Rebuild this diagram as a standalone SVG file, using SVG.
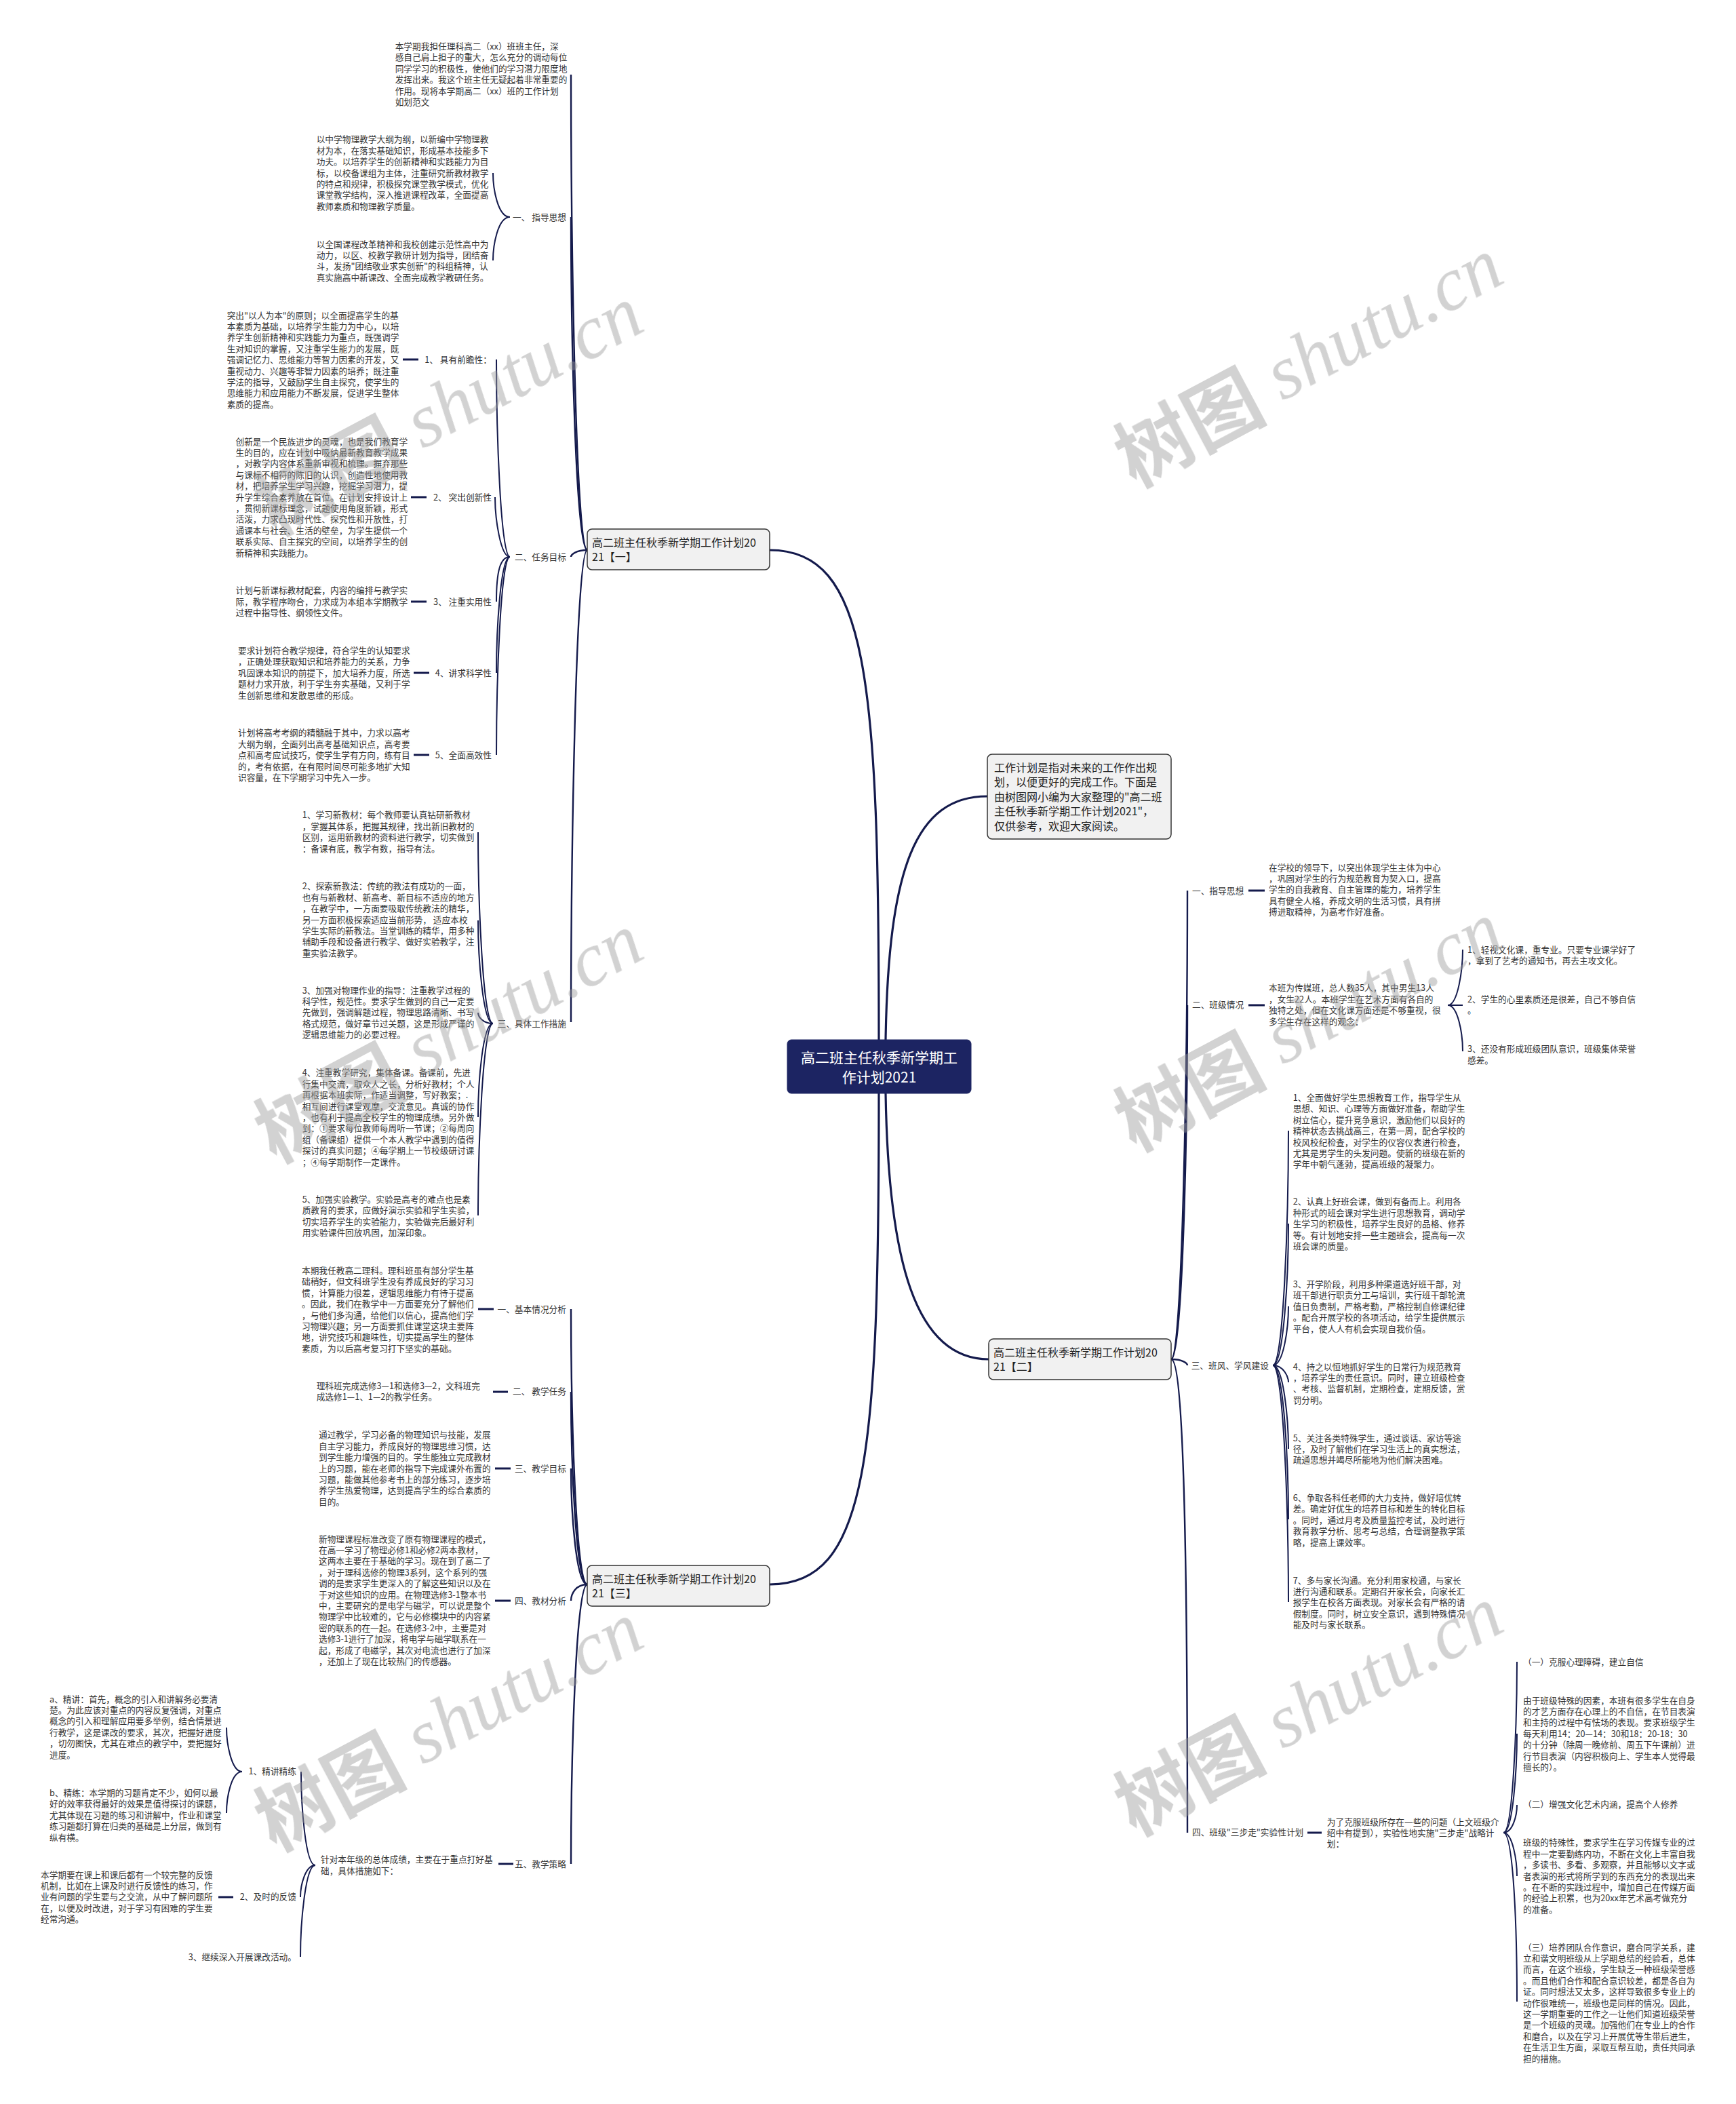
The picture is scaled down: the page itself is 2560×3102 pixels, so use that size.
<svg xmlns="http://www.w3.org/2000/svg" width="2560" height="3102" viewBox="0 0 2560 3102">
<style>
.t{font-family:"Noto Sans CJK SC","Noto Sans",sans-serif;font-size:12.7px;fill:#333}
.b{font-family:"Noto Sans CJK SC","Noto Sans",sans-serif;font-size:16px;fill:#222}
.c{font-family:"Noto Sans CJK SC","Noto Sans",sans-serif;font-size:21px;fill:#fff}
.e{fill:none;stroke:#141a4c;stroke-width:2}
.e0{fill:none;stroke:#141a4c;stroke-width:3.2}
.e1{fill:none;stroke:#141a4c;stroke-width:2.4}
.s{stroke:#141a4c;stroke-width:3}
.box{fill:#f1f1f1;stroke:#333;stroke-width:1.5}
.wm{font-size:112px;fill:#9a9a9a;opacity:0.45}
.wmc{font-family:"Noto Sans CJK SC",sans-serif;font-weight:bold}
.wml{font-family:"Liberation Serif",serif;font-style:italic}
</style>
<rect x="0" y="0" width="2560" height="3102" fill="#fff"/>
<g id="connectors">
<path class="e0" d="M1296,1533 C1296,1000 1280,811 1135,811"/>
<path class="e0" d="M1306,1533 C1310,1280 1350,1174 1456,1174"/>
<path class="e0" d="M1306,1612 C1310,1860 1350,2004 1458,2004"/>
<path class="e0" d="M1296,1612 C1296,2150 1280,2336 1135,2336"/>
<path class="e1" d="M866,811 C849,811 842,355 842,110"/>
<path class="e1" d="M866,811 C849,811 842,488 842,320"/>
<path class="e1" d="M866,811 C849,811 842,818 842,821"/>
<path class="e1" d="M866,811 C849,811 842,1270 842,1507"/>
<path class="e1" d="M866,2336 C849,2336 842,2080 842,1930"/>
<path class="e1" d="M866,2336 C849,2336 842,2150 842,2052"/>
<path class="e1" d="M866,2336 C849,2336 842,2225 842,2165"/>
<path class="e1" d="M866,2336 C849,2336 842,2350 842,2360"/>
<path class="e1" d="M866,2336 C849,2336 842,2600 842,2748"/>
<path class="e1" d="M1727,2004 C1744,2004 1751,1550 1751,1313"/>
<path class="e1" d="M1727,2004 C1744,2004 1751,1665 1751,1482"/>
<path class="e1" d="M1727,2004 C1744,2004 1751,2010 1751,2013"/>
<path class="e1" d="M1727,2004 C1744,2004 1751,2245 1751,2702"/>
<path class="e" d="M752,320 C734,320 727,278 727,255"/>
<path class="e" d="M752,320 C734,320 727,362 727,384"/>
<path class="e" d="M752,821 C738,821 732,632 732,530"/>
<path class="e" d="M752,821 C738,821 730,764 730,733"/>
<path class="e" d="M752,821 C738,821 732,841 732,887"/>
<path class="e" d="M752,821 C738,821 732,930 732,992"/>
<path class="e" d="M752,821 C738,821 732,1010 732,1113"/>
<path class="e" d="M727,1509 C712,1509 705,1326 705,1227"/>
<path class="e" d="M727,1509 C712,1509 705,1410 705,1357"/>
<path class="e" d="M727,1509 C712,1509 705,1499 705,1493"/>
<path class="e" d="M727,1509 C712,1509 705,1594 705,1647"/>
<path class="e" d="M727,1509 C712,1509 705,1693 705,1792"/>
<path class="e" d="M465,2750 C450,2750 444,2660 444,2612"/>
<path class="e" d="M465,2750 C450,2750 443,2780 443,2797"/>
<path class="e" d="M465,2750 C450,2750 443,2838 443,2885"/>
<path class="e" d="M357,2612 C341,2612 334,2570 334,2547"/>
<path class="e" d="M357,2612 C341,2612 334,2650 334,2673"/>
<path class="e" d="M2135,1482 C2150,1482 2157,1429 2157,1400"/>
<path class="e" d="M2135,1482 C2150,1482 2157,1482 2157,1482"/>
<path class="e" d="M2135,1482 C2150,1482 2157,1524 2157,1550"/>
<path class="e" d="M1877,2013 C1893,2013 1900,1790 1900,1667"/>
<path class="e" d="M1877,2013 C1893,2013 1900,1880 1900,1804"/>
<path class="e" d="M1877,2013 C1893,2013 1900,1957 1900,1926"/>
<path class="e" d="M1877,2013 C1893,2013 1900,2030 1900,2038"/>
<path class="e" d="M1877,2013 C1893,2013 1900,2095 1900,2136"/>
<path class="e" d="M1877,2013 C1893,2013 1900,2158 1900,2240"/>
<path class="e" d="M1877,2013 C1893,2013 1900,2235 1900,2362"/>
<path class="e" d="M2217,2702 C2231,2702 2237,2540 2237,2450"/>
<path class="e" d="M2217,2702 C2231,2702 2237,2608 2237,2556"/>
<path class="e" d="M2217,2702 C2231,2702 2237,2676 2237,2661"/>
<path class="e" d="M2217,2702 C2231,2702 2237,2745 2237,2766"/>
<path class="e" d="M2217,2702 C2231,2702 2237,2830 2237,2951"/>
<line class="s" x1="594" y1="530" x2="617" y2="530"/>
<line class="s" x1="606" y1="733" x2="629" y2="733"/>
<line class="s" x1="606" y1="887" x2="629" y2="887"/>
<line class="s" x1="610" y1="992" x2="633" y2="992"/>
<line class="s" x1="610" y1="1113" x2="633" y2="1113"/>
<line class="s" x1="705" y1="1930" x2="728" y2="1930"/>
<line class="s" x1="727" y1="2052" x2="749" y2="2052"/>
<line class="s" x1="730" y1="2165" x2="753" y2="2165"/>
<line class="s" x1="730" y1="2360" x2="753" y2="2360"/>
<line class="s" x1="735" y1="2748" x2="757" y2="2748"/>
<line class="s" x1="322" y1="2797" x2="344" y2="2797"/>
<line class="s" x1="1841" y1="1313" x2="1865" y2="1313"/>
<line class="s" x1="1841" y1="1482" x2="1865" y2="1482"/>
<line class="s" x1="1928" y1="2702" x2="1949" y2="2702"/>
</g>
<g id="root">
<rect x="1161" y="1533" width="271" height="79" rx="6" fill="#1c2462" stroke="#1c2462"/>
<text class="c" text-anchor="middle" x="1296.5" y="1566.6">高二班主任秋季新学期工<tspan x="1296.5" dy="29">作计划2021</tspan></text>
</g>
<g id="intro">
<rect class="box" x="1456" y="1112" width="271" height="125" rx="7"/>
<text class="b" x="1466" y="1137.5">工作计划是指对未来的工作作出规<tspan x="1466" dy="21.65">划，以便更好的完成工作。下面是</tspan><tspan x="1466" dy="21.65">由树图网小编为大家整理的"高二班</tspan><tspan x="1466" dy="21.65">主任秋季新学期工作计划2021"，</tspan><tspan x="1466" dy="21.65">仅供参考，欢迎大家阅读。</tspan></text>
</g>
<g id="b1">
<rect class="box" x="866" y="780" width="269" height="60" rx="7"/>
<text class="b" x="873" y="805.8">高二班主任秋季新学期工作计划20<tspan x="873" dy="21">21【一】</tspan></text>
</g>
<g id="b2">
<rect class="box" x="1458" y="1974" width="269" height="60" rx="7"/>
<text class="b" x="1465" y="1999.8">高二班主任秋季新学期工作计划20<tspan x="1465" dy="21">21【二】</tspan></text>
</g>
<g id="b3">
<rect class="box" x="866" y="2308" width="269" height="60" rx="7"/>
<text class="b" x="873" y="2333.8">高二班主任秋季新学期工作计划20<tspan x="873" dy="21">21【三】</tspan></text>
</g>
<g id="n-intro-text">
<text class="t" x="582.7" y="72.9">本学期我担任理科高二（xx）班班主任，深<tspan x="582.7" dy="16.4">感自己肩上担子的重大，怎么充分的调动每位</tspan><tspan x="582.7" dy="16.4">同学学习的积极性，使他们的学习潜力限度地</tspan><tspan x="582.7" dy="16.4">发挥出来。我这个班主任无疑起着非常重要的</tspan><tspan x="582.7" dy="16.4">作用。现将本学期高二（xx）班的工作计划</tspan><tspan x="582.7" dy="16.4">如划范文</tspan></text>
</g>
<g id="n-zdsx">
<text class="t" x="835" y="324.6" text-anchor="end">一、 指导思想</text>
</g>
<g id="n-zd1">
<text class="t" x="466.7" y="210.3">以中学物理教学大纲为纲，以新编中学物理教<tspan x="466.7" dy="16.4">材为本，在落实基础知识，形成基本技能多下</tspan><tspan x="466.7" dy="16.4">功夫。以培养学生的创新精神和实践能力为目</tspan><tspan x="466.7" dy="16.4">标，以校备课组为主体，注重研究新教材教学</tspan><tspan x="466.7" dy="16.4">的特点和规律，积极探究课堂教学模式，优化</tspan><tspan x="466.7" dy="16.4">课堂教学结构，深入推进课程改革，全面提高</tspan><tspan x="466.7" dy="16.4">教师素质和物理教学质量。</tspan></text>
</g>
<g id="n-zd2">
<text class="t" x="466.7" y="364.6">以全国课程改革精神和我校创建示范性高中为<tspan x="466.7" dy="16.4">动力，以区、校教学教研计划为指导，团结奋</tspan><tspan x="466.7" dy="16.4">斗，发扬"团结敬业求实创新"的科组精神，认</tspan><tspan x="466.7" dy="16.4">真实施高中新课改、全面完成教学教研任务。</tspan></text>
</g>
<g id="n-rwmb">
<text class="t" x="835" y="826.3" text-anchor="end">二、任务目标</text>
</g>
<g id="n-rw1">
<text class="t" x="725" y="534.6" text-anchor="end">1、 具有前瞻性：</text>
<text class="t" x="334.7" y="469.6">突出"以人为本"的原则；以全面提高学生的基<tspan x="334.7" dy="16.4">本素质为基础，以培养学生能力为中心，以培</tspan><tspan x="334.7" dy="16.4">养学生创新精神和实践能力为重点，既强调学</tspan><tspan x="334.7" dy="16.4">生对知识的掌握，又注重学生能力的发展，既</tspan><tspan x="334.7" dy="16.4">强调记忆力、思维能力等智力因素的开发，又</tspan><tspan x="334.7" dy="16.4">重视动力、兴趣等非智力因素的培养；既注重</tspan><tspan x="334.7" dy="16.4">学法的指导，又鼓励学生自主探究，使学生的</tspan><tspan x="334.7" dy="16.4">思维能力和应用能力不断发展，促进学生整体</tspan><tspan x="334.7" dy="16.4">素质的提高。</tspan></text>
</g>
<g id="n-rw2">
<text class="t" x="725" y="737.9" text-anchor="end">2、 突出创新性</text>
<text class="t" x="347.5" y="655.6">创新是一个民族进步的灵魂，也是我们教育学<tspan x="347.5" dy="16.4">生的目的，应在计划中吸纳最新教育教学成果</tspan><tspan x="347.5" dy="16.4">，对教学内容体系重新审视和梳理。摒弃那些</tspan><tspan x="347.5" dy="16.4">与课标不相符的陈旧的认识，创造性地使用教</tspan><tspan x="347.5" dy="16.4">材，把培养学生学习兴趣，挖掘学习潜力，提</tspan><tspan x="347.5" dy="16.4">升学生综合素养放在首位。在计划安排设计上</tspan><tspan x="347.5" dy="16.4">，贯彻新课标理念，试题使用角度新颖，形式</tspan><tspan x="347.5" dy="16.4">活泼，力求凸现时代性、探究性和开放性，打</tspan><tspan x="347.5" dy="16.4">通课本与社会、生活的壁垒，为学生提供一个</tspan><tspan x="347.5" dy="16.4">联系实际、自主探究的空间，以培养学生的创</tspan><tspan x="347.5" dy="16.4">新精神和实践能力。</tspan></text>
</g>
<g id="n-rw3">
<text class="t" x="725" y="891.9" text-anchor="end">3、 注重实用性</text>
<text class="t" x="347.5" y="875.3">计划与新课标教材配套，内容的编排与教学实<tspan x="347.5" dy="16.4">际，教学程序吻合，力求成为本组本学期教学</tspan><tspan x="347.5" dy="16.4">过程中指导性、纲领性文件。</tspan></text>
</g>
<g id="n-rw4">
<text class="t" x="725" y="996.9" text-anchor="end">4、讲求科学性</text>
<text class="t" x="351" y="963.9">要求计划符合教学规律，符合学生的认知要求<tspan x="351" dy="16.4">，正确处理获取知识和培养能力的关系，力争</tspan><tspan x="351" dy="16.4">巩固课本知识的前提下，加大培养力度，所选</tspan><tspan x="351" dy="16.4">题材力求开放，利于学生夯实基础，又利于学</tspan><tspan x="351" dy="16.4">生创新思维和发散思维的形成。</tspan></text>
</g>
<g id="n-rw5">
<text class="t" x="725" y="1117.9" text-anchor="end">5、全面高效性</text>
<text class="t" x="351" y="1085.3">计划将高考考纲的精髓融于其中，力求以高考<tspan x="351" dy="16.4">大纲为纲，全面列出高考基础知识点，高考要</tspan><tspan x="351" dy="16.4">点和高考应试技巧，使学生学有方向，练有目</tspan><tspan x="351" dy="16.4">的，考有依据，在有限时间尽可能多地扩大知</tspan><tspan x="351" dy="16.4">识容量，在下学期学习中先入一步。</tspan></text>
</g>
<g id="n-jtcs">
<text class="t" x="835" y="1513.9" text-anchor="end">三、具体工作措施</text>
</g>
<g id="n-cs1">
<text class="t" x="445.7" y="1206.3">1、学习新教材：每个教师要认真钻研新教材<tspan x="445.7" dy="16.4">，掌握其体系，把握其规律，找出新旧教材的</tspan><tspan x="445.7" dy="16.4">区别，运用新教材的资料进行教学，切实做到</tspan><tspan x="445.7" dy="16.4">：备课有底，教学有数，指导有法。</tspan></text>
</g>
<g id="n-cs2">
<text class="t" x="445.7" y="1311.3">2、探索新教法：传统的教法有成功的一面，<tspan x="445.7" dy="16.4">也有与新教材、新高考、新目标不适应的地方</tspan><tspan x="445.7" dy="16.4">，在教学中，一方面要吸取传统教法的精华，</tspan><tspan x="445.7" dy="16.4">另一方面积极探索适应当前形势， 适应本校</tspan><tspan x="445.7" dy="16.4">学生实际的新教法。当堂训练的精华，用多种</tspan><tspan x="445.7" dy="16.4">辅助手段和设备进行教学、做好实验教学，注</tspan><tspan x="445.7" dy="16.4">重实验法教学。</tspan></text>
</g>
<g id="n-cs3">
<text class="t" x="445.7" y="1464.6">3、加强对物理作业的指导：注重教学过程的<tspan x="445.7" dy="16.4">科学性，规范性。要求学生做到的自己一定要</tspan><tspan x="445.7" dy="16.4">先做到，强调解题过程，物理思路清晰、书写</tspan><tspan x="445.7" dy="16.4">格式规范，做好章节过关题，这是形成严谨的</tspan><tspan x="445.7" dy="16.4">逻辑思维能力的必要过程。</tspan></text>
</g>
<g id="n-cs4">
<text class="t" x="445.7" y="1586.3">4、注重教学研究，集体备课。备课前，先进<tspan x="445.7" dy="16.4">行集中交流，取众人之长，分析好教材；个人</tspan><tspan x="445.7" dy="16.4">再根据本班实际，作适当调整，写好教案；.</tspan><tspan x="445.7" dy="16.4">相互间进行课堂观摩，交流意见。真诚的协作</tspan><tspan x="445.7" dy="16.4">，也有利于提高全校学生的物理成绩。另外做</tspan><tspan x="445.7" dy="16.4">到：①要求每位教师每周听一节课；②每周向</tspan><tspan x="445.7" dy="16.4">组（备课组）提供一个本人教学中遇到的值得</tspan><tspan x="445.7" dy="16.4">探讨的真实问题；④每学期上一节校级研讨课</tspan><tspan x="445.7" dy="16.4">；④每学期制作一定课件。</tspan></text>
</g>
<g id="n-cs5">
<text class="t" x="445.7" y="1772.9">5、加强实验教学。实验是高考的难点也是素<tspan x="445.7" dy="16.4">质教育的要求，应做好演示实验和学生实验，</tspan><tspan x="445.7" dy="16.4">切实培养学生的实验能力，实验做完后最好利</tspan><tspan x="445.7" dy="16.4">用实验课件回放巩固，加深印象。</tspan></text>
</g>
<g id="n-jbqk">
<text class="t" x="835" y="1934.6" text-anchor="end">一、基本情况分析</text>
<text class="t" x="445" y="1877.9">本期我任教高二理科。理科班虽有部分学生基<tspan x="445" dy="16.4">础稍好，但文科班学生没有养成良好的学习习</tspan><tspan x="445" dy="16.4">惯，计算能力很差，逻辑思维能力有待于提高</tspan><tspan x="445" dy="16.4">。因此，我们在教学中一方面要充分了解他们</tspan><tspan x="445" dy="16.4">，与他们多沟通，给他们以信心，提高他们学</tspan><tspan x="445" dy="16.4">习物理兴趣；另一方面要抓住课堂这块主要阵</tspan><tspan x="445" dy="16.4">地，讲究技巧和趣味性，切实提高学生的整体</tspan><tspan x="445" dy="16.4">素质，为以后高考复习打下坚实的基础。</tspan></text>
</g>
<g id="n-jxrw">
<text class="t" x="835" y="2056.3" text-anchor="end">二、 教学任务</text>
<text class="t" x="466.7" y="2047.9">理科班完成选修3—1和选修3—2，文科班完<tspan x="466.7" dy="16.4">成选修1—1、1—2的教学任务。</tspan></text>
</g>
<g id="n-jxmb">
<text class="t" x="835" y="2169.6" text-anchor="end">三、教学目标</text>
<text class="t" x="470" y="2120.3">通过教学，学习必备的物理知识与技能，发展<tspan x="470" dy="16.4">自主学习能力，养成良好的物理思维习惯，达</tspan><tspan x="470" dy="16.4">到学生能力增强的目的。学生能独立完成教材</tspan><tspan x="470" dy="16.4">上的习题，能在老师的指导下完成课外布置的</tspan><tspan x="470" dy="16.4">习题，能做其他参考书上的部分练习，逐步培</tspan><tspan x="470" dy="16.4">养学生热爱物理，达到提高学生的综合素质的</tspan><tspan x="470" dy="16.4">目的。</tspan></text>
</g>
<g id="n-jcfx">
<text class="t" x="835" y="2364.6" text-anchor="end">四、教材分析</text>
<text class="t" x="470" y="2273.6">新物理课程标准改变了原有物理课程的模式，<tspan x="470" dy="16.4">在高一学习了物理必修1和必修2两本教材，</tspan><tspan x="470" dy="16.4">这两本主要在于基础的学习。现在到了高二了</tspan><tspan x="470" dy="16.4">，对于理科选修的物理3系列，这个系列的强</tspan><tspan x="470" dy="16.4">调的是要求学生更深入的了解这些知识以及在</tspan><tspan x="470" dy="16.4">于对这些知识的应用。在物理选修3-1整本书</tspan><tspan x="470" dy="16.4">中，主要研究的是电学与磁学，可以说是整个</tspan><tspan x="470" dy="16.4">物理学中比较难的，它与必修模块中的内容紧</tspan><tspan x="470" dy="16.4">密的联系的在一起。在选修3-2中，主要是对</tspan><tspan x="470" dy="16.4">选修3-1进行了加深，将电学与磁学联系在一</tspan><tspan x="470" dy="16.4">起，形成了电磁学，其次对电流也进行了加深</tspan><tspan x="470" dy="16.4">，还加上了现在比较热门的传感器。</tspan></text>
</g>
<g id="n-jxcl">
<text class="t" x="835" y="2752.9" text-anchor="end">五、教学策略</text>
<text class="t" x="473" y="2746.3">针对本年级的总体成绩，主要在于重点打好基<tspan x="473" dy="16.4">础，具体措施如下：</tspan></text>
</g>
<g id="n-jjjl">
<text class="t" x="437" y="2616.3" text-anchor="end">1、精讲精练</text>
<text class="t" x="73" y="2509.6">a、精讲：首先，概念的引入和讲解务必要清<tspan x="73" dy="16.4">楚。为此应该对重点的内容反复强调，对重点</tspan><tspan x="73" dy="16.4">概念的引入和理解应用要多举例，结合情景进</tspan><tspan x="73" dy="16.4">行教学，这是课改的要求，其次，把握好进度</tspan><tspan x="73" dy="16.4">，切勿图快，尤其在难点的教学中，要把握好</tspan><tspan x="73" dy="16.4">进度。</tspan></text>
<text class="t" x="73" y="2647.9">b、精练：本学期的习题肯定不少，如何以最<tspan x="73" dy="16.4">好的效率获得最好的效果是值得探讨的课题，</tspan><tspan x="73" dy="16.4">尤其体现在习题的练习和讲解中，作业和课堂</tspan><tspan x="73" dy="16.4">练习题都打算在归类的基础是上分层，做到有</tspan><tspan x="73" dy="16.4">纵有横。</tspan></text>
</g>
<g id="n-jsfk">
<text class="t" x="437" y="2801.3" text-anchor="end">2、及时的反馈</text>
<text class="t" x="60" y="2768.6">本学期要在课上和课后都有一个较完整的反馈<tspan x="60" dy="16.4">机制，比如在上课及时进行反馈性的练习，作</tspan><tspan x="60" dy="16.4">业有问题的学生要与之交流，从中了解问题所</tspan><tspan x="60" dy="16.4">在，以便及时改进，对于学习有困难的学生要</tspan><tspan x="60" dy="16.4">经常沟通。</tspan></text>
</g>
<g id="n-kghd">
<text class="t" x="437" y="2889.6" text-anchor="end">3、继续深入开展课改活动。</text>
</g>
<g id="n-r-zdsx">
<text class="t" x="1758" y="1317.9">一、指导思想</text>
<text class="t" x="1871" y="1283.6">在学校的领导下，以突出体现学生主体为中心<tspan x="1871" dy="16.4">，巩固对学生的行为规范教育为契入口，提高</tspan><tspan x="1871" dy="16.4">学生的自我教育、自主管理的能力，培养学生</tspan><tspan x="1871" dy="16.4">具有健全人格，养成文明的生活习惯，具有拼</tspan><tspan x="1871" dy="16.4">搏进取精神，为高考作好准备。</tspan></text>
</g>
<g id="n-r-bjqk">
<text class="t" x="1758" y="1486.3">二、班级情况</text>
<text class="t" x="1871" y="1461.3">本班为传媒班，总人数35人，其中男生13人<tspan x="1871" dy="16.4">，女生22人。本班学生在艺术方面有各自的</tspan><tspan x="1871" dy="16.4">独特之处，但在文化课方面还是不够重视，很</tspan><tspan x="1871" dy="16.4">多学生存在这样的观念：</tspan></text>
<text class="t" x="2164" y="1404.6">1、轻视文化课，重专业。只要专业课学好了<tspan x="2164" dy="16.4">，拿到了艺考的通知书，再去主攻文化。</tspan></text>
<text class="t" x="2164" y="1477.9">2、学生的心里素质还是很差，自己不够自信<tspan x="2164" dy="16.4">。</tspan></text>
<text class="t" x="2164" y="1551.3">3、还没有形成班级团队意识，班级集体荣誉<tspan x="2164" dy="16.4">感差。</tspan></text>
</g>
<g id="n-r-bfxf">
<text class="t" x="1756.7" y="2017.9">三、班风、学风建设</text>
<text class="t" x="1906.7" y="1622.9">1、全面做好学生思想教育工作，指导学生从<tspan x="1906.7" dy="16.4">思想、知识、心理等方面做好准备，帮助学生</tspan><tspan x="1906.7" dy="16.4">树立信心，提升竞争意识，激励他们以良好的</tspan><tspan x="1906.7" dy="16.4">精神状态去挑战高三，在第一周，配合学校的</tspan><tspan x="1906.7" dy="16.4">校风校纪检查，对学生的仪容仪表进行检查，</tspan><tspan x="1906.7" dy="16.4">尤其是男学生的头发问题。使新的班级在新的</tspan><tspan x="1906.7" dy="16.4">学年中朝气蓬勃，提高班级的凝聚力。</tspan></text>
<text class="t" x="1906.7" y="1776.3">2、认真上好班会课，做到有备而上。利用各<tspan x="1906.7" dy="16.4">种形式的班会课对学生进行思想教育，调动学</tspan><tspan x="1906.7" dy="16.4">生学习的积极性，培养学生良好的品格、修养</tspan><tspan x="1906.7" dy="16.4">等。有计划地安排一些主题班会，提高每一次</tspan><tspan x="1906.7" dy="16.4">班会课的质量。</tspan></text>
<text class="t" x="1906.7" y="1897.9">3、开学阶段，利用多种渠道选好班干部，对<tspan x="1906.7" dy="16.4">班干部进行职责分工与培训，实行班干部轮流</tspan><tspan x="1906.7" dy="16.4">值日负责制，严格考勤，严格控制自修课纪律</tspan><tspan x="1906.7" dy="16.4">。配合开展学校的各项活动，给学生提供展示</tspan><tspan x="1906.7" dy="16.4">平台，使人人有机会实现自我价值。</tspan></text>
<text class="t" x="1906.7" y="2019.6">4、持之以恒地抓好学生的日常行为规范教育<tspan x="1906.7" dy="16.4">，培养学生的责任意识。同时，建立班级检查</tspan><tspan x="1906.7" dy="16.4">、考核、监督机制，定期检查，定期反馈，赏</tspan><tspan x="1906.7" dy="16.4">罚分明。</tspan></text>
<text class="t" x="1906.7" y="2124.6">5、关注各类特殊学生，通过谈话、家访等途<tspan x="1906.7" dy="16.4">径，及时了解他们在学习生活上的真实想法，</tspan><tspan x="1906.7" dy="16.4">疏通思想并竭尽所能地为他们解决困难。</tspan></text>
<text class="t" x="1906.7" y="2212.9">6、争取各科任老师的大力支持，做好培优转<tspan x="1906.7" dy="16.4">差。确定好优生的培养目标和差生的转化目标</tspan><tspan x="1906.7" dy="16.4">。同时，通过月考及质量监控考试，及时进行</tspan><tspan x="1906.7" dy="16.4">教育教学分析、思考与总结，合理调整教学策</tspan><tspan x="1906.7" dy="16.4">略，提高上课效率。</tspan></text>
<text class="t" x="1906.7" y="2334.6">7、多与家长沟通。充分利用家校通，与家长<tspan x="1906.7" dy="16.4">进行沟通和联系。定期召开家长会，向家长汇</tspan><tspan x="1906.7" dy="16.4">报学生在校各方面表现。对家长会有严格的请</tspan><tspan x="1906.7" dy="16.4">假制度。同时，树立安全意识，遇到特殊情况</tspan><tspan x="1906.7" dy="16.4">能及时与家长联系。</tspan></text>
</g>
<g id="n-r-sbz">
<text class="t" x="1758" y="2706.2">四、班级"三步走"实验性计划</text>
<text class="t" x="1956.8" y="2690.6">为了克服班级所存在一些的问题（上文班级介<tspan x="1956.8" dy="16.4">绍中有提到），实验性地实施"三步走"战略计</tspan><tspan x="1956.8" dy="16.4">划：</tspan></text>
<text class="t" x="2246" y="2455.2">（一）克服心理障碍，建立自信</text>
<text class="t" x="2246" y="2511.6">由于班级特殊的因素，本班有很多学生在自身<tspan x="2246" dy="16.4">的才艺方面存在心理上的不自信，在节目表演</tspan><tspan x="2246" dy="16.4">和主持的过程中有怯场的表现。要求班级学生</tspan><tspan x="2246" dy="16.4">每天利用14：20—14：30和18：20-18：30</tspan><tspan x="2246" dy="16.4">的十分钟（除周一晚修前、周五下午课前）进</tspan><tspan x="2246" dy="16.4">行节目表演（内容积极向上、学生本人觉得最</tspan><tspan x="2246" dy="16.4">擅长的）。</tspan></text>
<text class="t" x="2246" y="2665.4">（二）增强文化艺术内涵，提高个人修养</text>
<text class="t" x="2246" y="2721.3">班级的特殊性，要求学生在学习传媒专业的过<tspan x="2246" dy="16.4">程中一定要勤练内功，不断在文化上丰富自我</tspan><tspan x="2246" dy="16.4">，多读书、多看、多观察，并且能够以文字或</tspan><tspan x="2246" dy="16.4">者表演的形式将所学到的东西充分的表现出来</tspan><tspan x="2246" dy="16.4">。在不断的实践过程中，增加自己在传媒方面</tspan><tspan x="2246" dy="16.4">的经验上积累，也为20xx年艺术高考做充分</tspan><tspan x="2246" dy="16.4">的准备。</tspan></text>
<text class="t" x="2246" y="2875.6">（三）培养团队合作意识，磨合同学关系，建<tspan x="2246" dy="16.4">立和谐文明班级从上学期总结的经验看，总体</tspan><tspan x="2246" dy="16.4">而言，在这个班级，学生缺乏一种班级荣誉感</tspan><tspan x="2246" dy="16.4">。而且他们合作和配合意识较差，都是各自为</tspan><tspan x="2246" dy="16.4">证。同时想法又太多，这样导致很多专业上的</tspan><tspan x="2246" dy="16.4">动作很难统一，班级也是同样的情况。因此，</tspan><tspan x="2246" dy="16.4">这一学期重要的工作之一让他们知道班级荣誉</tspan><tspan x="2246" dy="16.4">是一个班级的灵魂。加强他们在专业上的合作</tspan><tspan x="2246" dy="16.4">和磨合，以及在学习上开展优等生带后进生，</tspan><tspan x="2246" dy="16.4">在生活卫生方面，采取互帮互助，责任共同承</tspan><tspan x="2246" dy="16.4">担的措施。</tspan></text>
</g>
<g id="watermark" class="wm">
<text x="1928" y="529" text-anchor="middle" dominant-baseline="central" transform="rotate(-28 1928 529)"><tspan class="wmc">树图</tspan><tspan class="wml"> shutu.cn</tspan></text>
<text x="1928" y="1508" text-anchor="middle" dominant-baseline="central" transform="rotate(-28 1928 1508)"><tspan class="wmc">树图</tspan><tspan class="wml"> shutu.cn</tspan></text>
<text x="1928" y="2517" text-anchor="middle" dominant-baseline="central" transform="rotate(-28 1928 2517)"><tspan class="wmc">树图</tspan><tspan class="wml"> shutu.cn</tspan></text>
<text x="660" y="600" text-anchor="middle" dominant-baseline="central" transform="rotate(-28 660 600)"><tspan class="wmc">树图</tspan><tspan class="wml"> shutu.cn</tspan></text>
<text x="660" y="1525" text-anchor="middle" dominant-baseline="central" transform="rotate(-28 660 1525)"><tspan class="wmc">树图</tspan><tspan class="wml"> shutu.cn</tspan></text>
<text x="660" y="2540" text-anchor="middle" dominant-baseline="central" transform="rotate(-28 660 2540)"><tspan class="wmc">树图</tspan><tspan class="wml"> shutu.cn</tspan></text>
</g>
</svg>
